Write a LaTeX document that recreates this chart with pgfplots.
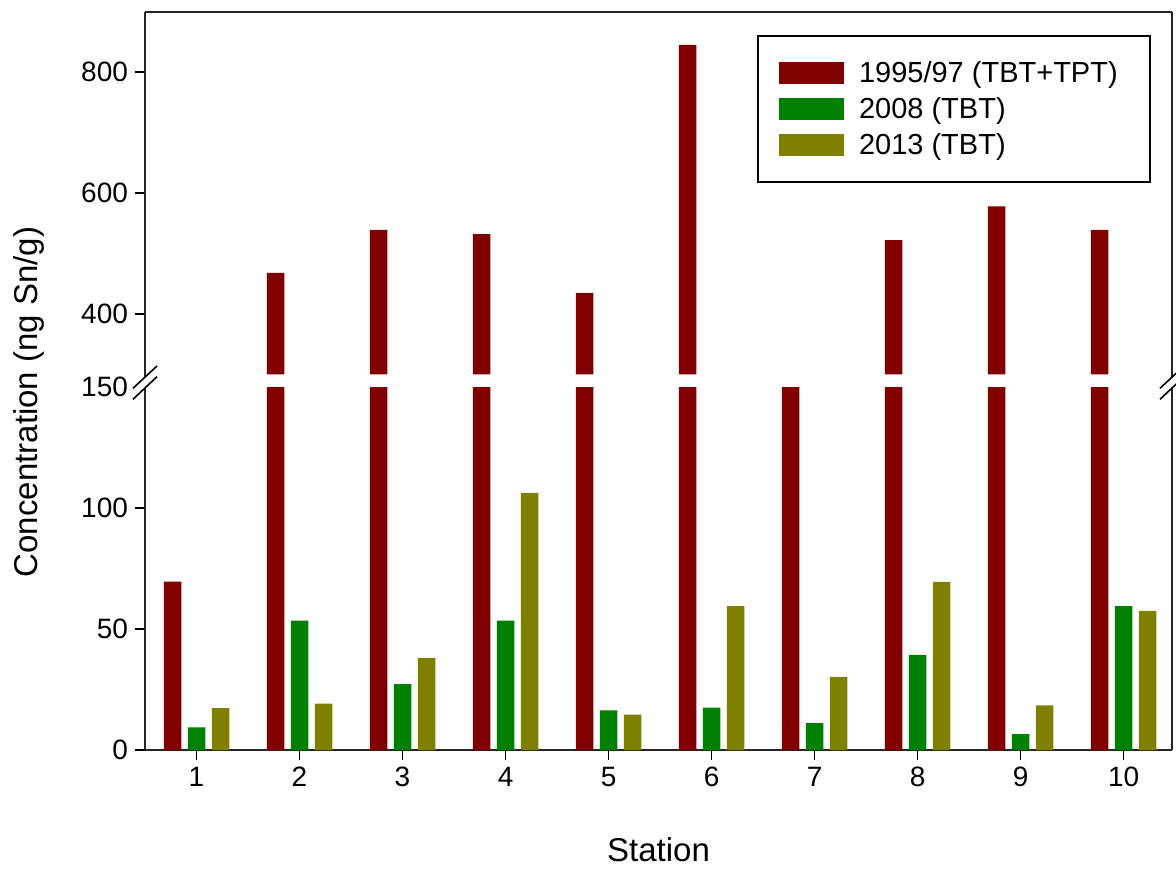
\documentclass[border=0pt]{standalone}
\usepackage{pgfplots}
\pgfplotsset{compat=1.18}
\usepackage{pgfplotstable}
\usepackage{fontspec}
\setmainfont{Liberation Sans}
\definecolor{cA}{HTML}{800000}
\definecolor{cB}{HTML}{008000}
\definecolor{cC}{HTML}{808000}

\pgfplotstableread{
st a b c
1 69.6 9.3 17.3
2 468 53.5 19.2
3 539 27.2 38.1
4 532 53.5 106.3
5 435 16.4 14.6
6 845 17.5 59.5
7 200 11.1 30.2
8 522 39.3 69.5
9 578 6.6 18.4
10 539 59.5 57.5
}\data

\pgfplotsset{brk/.style={
  scale only axis, width=513.5pt, height=181.5pt,
  xmin=0.5, xmax=10.47,
  ybar=3.25pt, bar width=8.75pt,
  axis line style={-, line width=1pt, black!85},
  tick align=outside, major tick length=5pt,
  tick style={line width=0.8pt, black},
  ytick pos=left,
  tick label style={font=\fontsize{14pt}{16pt}\selectfont},
  /pgf/number format/assume math mode=true,
  label style={font=\fontsize{16.5pt}{19pt}\selectfont},
}}

\begin{document}
\begin{tikzpicture}
\useasboundingbox (-72.5pt,-59pt) rectangle (515.5pt,375pt);
\begin{axis}[brk, name=upper, at={(0,187.75pt)}, anchor=south west,
  ymin=300, ymax=900, ytick={400,600,800},
  axis x line*=top, axis y line*=box, xtick=\empty,
  unbounded coords=discard,
]
\addplot[fill=cA, draw=none, bar shift=-12pt, y filter/.expression={y<300 ? nan : y}] table[x=st, y=a] {\data};
\end{axis}
\begin{axis}[brk, name=lower, at={(0,0)}, anchor=south west,
  ymin=0, ymax=150, ytick={0,50,100,150},
  axis x line*=bottom, axis y line*=box,
  xtick={1,...,10},
  xlabel={Station}, ylabel={Concentration (ng Sn/g)},
  xlabel style={at={(axis description cs:0.5,-0.3085)}, anchor=base},
  ylabel style={at={(axis description cs:-0.1129,0.9587)}, anchor=center},
  legend style={at={(0.9796,1.9697)}, anchor=north east, draw=black, line width=1pt,
    inner xsep=10.5pt, inner ysep=10.5pt, row sep=2pt,
    font=\fontsize{14.5pt}{17pt}\selectfont},
  legend cell align=left,
  legend image code/.code={\fill[#1, draw=none] (0pt,-5.5pt) rectangle (32.5pt,5.5pt);},
]
\addplot[fill=cA, draw=none] table[x=st, y=a] {\data};
\addplot[fill=cB, draw=none] table[x=st, y=b] {\data};
\addplot[fill=cC, draw=none] table[x=st, y=c] {\data};
\legend{\makebox[138.5pt][l]{\hspace*{5.5pt}1995/97 (TBT+TPT)},\makebox[138.5pt][l]{\hspace*{5.5pt}2008 (TBT)},\makebox[138.5pt][l]{\hspace*{5.5pt}2013 (TBT)}}
\end{axis}
% connect spines across the break
\draw[line width=1pt, black!85] (lower.north west) -- (upper.south west);
\draw[line width=1pt, black!85] (lower.north east) -- (upper.south east);
% break marks
\foreach \xx in {0pt,513.5pt}{
  \fill[white] ([xshift=\xx]-6pt,180.85pt) -- ([xshift=\xx]6pt,192pt) -- ([xshift=\xx]6pt,186.65pt) -- ([xshift=\xx]-6pt,175.35pt) -- cycle;
  \draw[line width=0.8pt] ([xshift=\xx]-6pt,180.85pt) -- ([xshift=\xx]6pt,192pt);
  \draw[line width=0.8pt] ([xshift=\xx]-6pt,175.35pt) -- ([xshift=\xx]6pt,186.65pt);
}
\end{tikzpicture}
\end{document}
